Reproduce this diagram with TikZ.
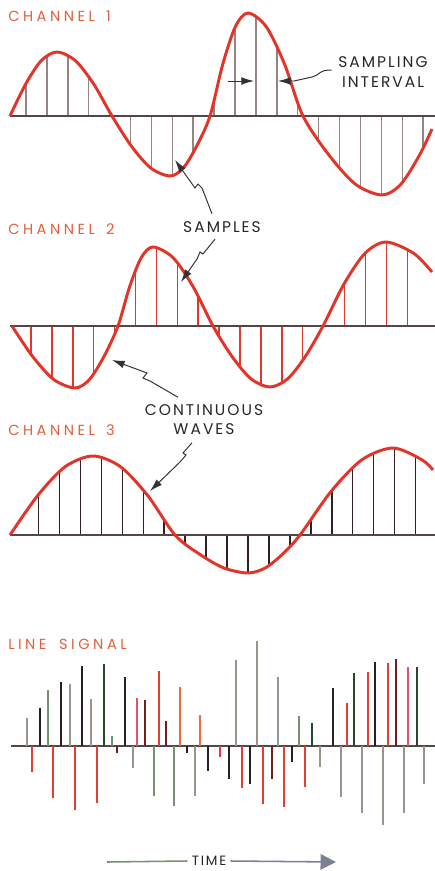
\documentclass[tikz,border=0pt]{standalone}
\usepackage{fontspec}
\usepackage{tikz}
\usetikzlibrary{arrows.meta,calc}

\newfontfamily\lblfont[LetterSpace=13]{Poppins}
\newfontfamily\chfont[LetterSpace=24]{Poppins}

\definecolor{wavered}{RGB}{226,52,40}
\definecolor{chlabel}{RGB}{224,96,62}
\definecolor{basegray}{RGB}{85,70,70}
\definecolor{smpgray}{RGB}{150,132,130}
\definecolor{smpred}{RGB}{222,55,45}
\definecolor{smpdark}{RGB}{50,32,32}
\definecolor{sgray}{RGB}{152,150,140}
\definecolor{sgreen}{RGB}{120,145,115}
\definecolor{sblack}{RGB}{40,32,38}
\definecolor{sred}{RGB}{228,62,50}
\definecolor{sdred}{RGB}{115,30,30}
\definecolor{spink}{RGB}{232,82,100}
\definecolor{sorange}{RGB}{240,105,55}
\definecolor{sdgreen}{RGB}{40,70,45}
\definecolor{timegray}{RGB}{125,128,148}

\begin{document}
\begin{tikzpicture}[x=0.25mm, y=-0.25mm,
    wave/.style={wavered, line width=2.1pt, line join=round},
    axis/.style={basegray, line width=0.9pt},
    smpline/.style={line width=1pt},
    spike/.style={line width=1.5pt},
    chlbl/.style={chlabel, anchor=west, inner sep=0pt, font=\chfont\fontsize{10.4}{12}\selectfont},
    note/.style={black!85, align=center, inner sep=1pt, font=\lblfont\fontsize{11}{13.6}\selectfont},
    leader/.style={black!80, line width=0.7pt, -{Latex[length=9pt,width=5.5pt]}}]
    \useasboundingbox (0,0) rectangle (435,871);

    % Channel 1
    \node[chlbl] (ch1) at (8,16) {CHANNEL\hspace{8pt}1};
    \begin{scope}
        \clip plot[smooth] coordinates {(10,116) (25.7,84) (41.3,60.6) (57,52) (75.3,60.6) (93.7,84) (112,116) (131.3,146) (150.7,168) (170,176) (183.3,168) (196.7,146) (210,116) (222.7,64.5) (235.3,26.8) (248,13) (266.3,26.8) (284.7,64.5) (303,116) (329.3,155.5) (355.7,184.4) (382,195) (400.7,184.4) (419.3,155.5) (432,129)} -- (432,116) -- cycle;
        \foreach \k in {0,...,19}
            \draw[smpline, smpgray] ({26+20.9*\k},0) -- ({26+20.9*\k},230);
    \end{scope}
    \draw[axis] (10,116) -- (435,116);
    \draw[wave] plot[smooth] coordinates {(10,116) (25.7,84) (41.3,60.6) (57,52) (75.3,60.6) (93.7,84) (112,116) (131.3,146) (150.7,168) (170,176) (183.3,168) (196.7,146) (210,116) (222.7,64.5) (235.3,26.8) (248,13) (266.3,26.8) (284.7,64.5) (303,116) (329.3,155.5) (355.7,184.4) (382,195) (400.7,184.4) (419.3,155.5) (432,129)};

    % Sampling interval
    \node[note] (sint) at (383,72) {SAMPLING\\INTERVAL};
    \coordinate (ivA) at (228,81);
    \coordinate (ivL) at (254,81);
    \coordinate (ivR) at (278,81);
    \draw[leader] (ivA) -- (ivL);
    \draw[leader] ($(sint.west)+(-5,-2)$) .. controls (318,70) and (322,74) .. (312,77) -- (294,81) -- (ivR);

    % Channel 2
    \node[chlbl] (ch2) at (8,229) {CHANNEL\hspace{8pt}2};
    \begin{scope}
        \clip plot[smooth] coordinates {(12,326) (33,357) (54,379.7) (75,388) (89.3,379.7) (103.7,357) (118,326) (129.7,286.5) (141.3,257.6) (153,247) (173,257.6) (193,286.5) (213,326) (232,356.5) (251,378.8) (270,387) (287.7,378.8) (305.3,356.5) (323,326) (344,284) (365,253.3) (386,242) (413.7,253.3) (432,272)} -- (432,326) -- cycle;
        \foreach \k in {0,...,18}
            \draw[smpline, smpred] ({31+20.9*\k},200) -- ({31+20.9*\k},420);
    \end{scope}
    \draw[axis] (10,326) -- (435,326);
    \draw[wave] plot[smooth] coordinates {(12,326) (33,357) (54,379.7) (75,388) (89.3,379.7) (103.7,357) (118,326) (129.7,286.5) (141.3,257.6) (153,247) (173,257.6) (193,286.5) (213,326) (232,356.5) (251,378.8) (270,387) (287.7,378.8) (305.3,356.5) (323,326) (344,284) (365,253.3) (386,242) (413.7,253.3) (432,272)};

    % Samples
    \node[note] (smp) at (222,227) {SAMPLES};
    \coordinate (smpA) at (175,160);
    \coordinate (smpB) at (181,282);
    \draw[leader] ($(smp.north)+(-10,-6)$) -- (202,188) -- (198,184) -- (195,188) -- (smpA);
    \draw[leader] ($(smp.south)+(-7,5)$) -- (203,254) -- (200,252) -- (197,259) -- (smpB);

    % Channel 3
    \node[chlbl] (ch3) at (8,430) {CHANNEL\hspace{8pt}3};
    \begin{scope}
        \clip plot[smooth] coordinates {(10,535) (37.7,495.5) (65.3,466.6) (93,456) (120.3,466.6) (147.7,495.5) (175,535) (199.3,554) (223.7,567.9) (248,573) (265.3,567.9) (282.7,554) (300,535) (331,491.5) (362,459.7) (393,448) (421.8,459.7) (433,470)} -- (433,535) -- cycle;
        \foreach \k in {0,...,18}
            \draw[smpline, smpdark] ({38.5+20.95*\k},420) -- ({38.5+20.95*\k},600);
    \end{scope}
    \draw[axis] (10,535) -- (435,535);
    \draw[wave] plot[smooth] coordinates {(10,535) (37.7,495.5) (65.3,466.6) (93,456) (120.3,466.6) (147.7,495.5) (175,535) (199.3,554) (223.7,567.9) (248,573) (265.3,567.9) (282.7,554) (300,535) (331,491.5) (362,459.7) (393,448) (421.8,459.7) (433,470)};

    % Continuous waves
    \node[note] (cont) at (204,420) {CONTINUOUS\\WAVES};
    \coordinate (cwA) at (112,360);
    \coordinate (cwB) at (150,491);
    \draw[leader] ($(cont.north)+(-26,-6)$) -- (150,381) -- (143,378) -- (147,373) -- (cwA);
    \draw[leader] ($(cont.south)+(-12,6)$) -- (183,453) -- (186,455) -- (180,462) -- (cwB);

    % Line signal
    \node[chlbl] (line) at (8,644) {LINE\hspace{9pt}SIGNAL};
    \draw[axis] (11,746) -- (435,746);
    \foreach \x/\h/\c in {27/28/sgray, 40/38/sblack, 48/56/sgreen, 61/64/sblack, 70/62/sgray,
        82/80/sblack, 91/47/sgray, 104/82/sdgreen, 112/10/sgreen, 125/69/sblack,
        137/48/spink, 145/46/sdred, 159/75/sred, 166/25/sdred, 180/59/sorange,
        200/31/sorange, 236/86/sgray, 257/105/sgray, 278/69/sgray, 299/30/sgreen,
        312/23/sdgreen, 333/58/sblack, 347/43/sred, 354/73/sdgreen, 368/74/sred,
        375/84/sblack, 388/83/sred, 396/87/sdred, 408/79/spink, 417/79/sdgreen}
        \draw[spike, \c] (\x,746) -- (\x,{746-\h});
    \foreach \x/\h/\c in {32/26/sred, 53/52/sred, 75/64/sred, 97/57/sred, 117/7/sdred,
        133/22/sgray, 154/50/sgreen, 174/60/sgreen, 187/7/sblack, 195/50/sgray,
        208/25/sblack, 220/11/sred, 229/33/sblack, 242/42/sred, 250/38/sblack,
        263/58/sred, 272/33/sdred, 284/61/sred, 292/16/sblack, 305/41/sred,
        320/21/sgray, 341/51/sgray, 362/67/sgray, 383/79/sgray, 404/67/sgray, 424/38/sgray}
        \draw[spike, \c] (\x,746) -- (\x,{746+\h});

    % Time
    \node[black!85, inner sep=3pt, font=\lblfont\fontsize{9.6}{11}\selectfont] (time) at (209,861) {TIME};
    \coordinate (tstart) at (107,862);
    \coordinate (tend) at (336,862);
    \draw[sgreen, line width=1.1pt] (tstart) -- (time.west);
    \draw[timegray, line width=1.1pt, -{Triangle[length=11pt,width=11pt]}] (time.east) -- (tend);
\end{tikzpicture}
\end{document}
